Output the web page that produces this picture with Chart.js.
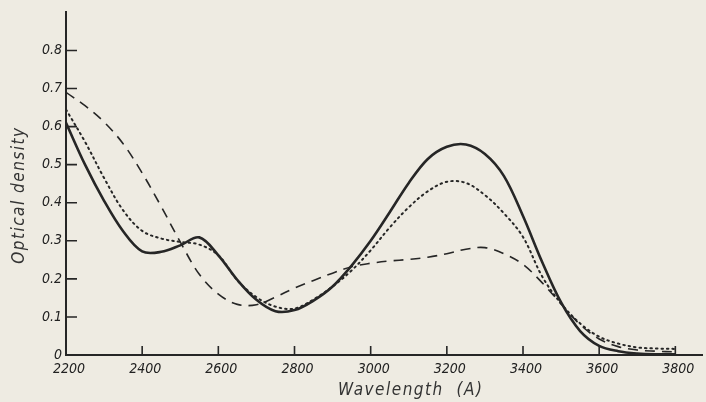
<!DOCTYPE html>
<html>
<head>
<meta charset="utf-8">
<script src="https://cdn.jsdelivr.net/npm/chart.js@4.4.1/dist/chart.umd.min.js"></script>
<style>
  html, body { margin: 0; padding: 0; background: #eeebe2; }
  #wrap { width: 706px; height: 402px; position: relative; }
</style>
</head>
<body>
<div id="wrap"><canvas id="spectrum"></canvas></div>
<script>
// Wavelength grid (Angstrom)
const wavelengths = [
    2200, 2250, 2300, 2350, 2400, 2450, 2500, 2550, 2600, 2650, 2700,
    2750, 2800, 2850, 2900, 2950, 3000, 3050, 3100, 3150, 3200, 3250,
    3300, 3350, 3400, 3450, 3500, 3550, 3600, 3650, 3700, 3750, 3800
];

// Optical density, solid curve
const solidDensity = [
    0.61, 0.50, 0.405, 0.325, 0.272, 0.271, 0.288, 0.309, 0.262, 0.197, 0.145,
    0.115, 0.118, 0.143, 0.18, 0.235, 0.30, 0.375, 0.452, 0.515, 0.547, 0.553,
    0.528, 0.47, 0.365, 0.245, 0.138, 0.063, 0.024, 0.01, 0.004, 0.002, 0.002
];

// Optical density, dotted curve
const dottedDensity = [
    0.645, 0.56, 0.465, 0.38, 0.326, 0.306, 0.297, 0.29, 0.262, 0.196, 0.152,
    0.127, 0.122, 0.146, 0.18, 0.222, 0.275, 0.335, 0.388, 0.43, 0.455, 0.452,
    0.42, 0.372, 0.31, 0.207, 0.135, 0.083, 0.048, 0.03, 0.02, 0.017, 0.016
];

// Optical density, dashed curve
const dashedDensity = [
    0.69, 0.655, 0.612, 0.555, 0.478, 0.39, 0.297, 0.212, 0.16, 0.133, 0.132,
    0.152, 0.176, 0.196, 0.215, 0.232, 0.241, 0.247, 0.251, 0.257, 0.266, 0.278,
    0.282, 0.266, 0.238, 0.19, 0.134, 0.08, 0.042, 0.022, 0.013, 0.01, 0.008
];

const yTickValues = [0, 0.1, 0.2, 0.3, 0.4, 0.5, 0.6, 0.7, 0.8];
const xTickValues = [2200, 2400, 2600, 2800, 3000, 3200, 3400, 3600, 3800];

const INK = '#262626';
const TICK_FONT = { family: "'DejaVu Sans Condensed', 'DejaVu Sans', sans-serif", size: 14, style: 'italic' };

function toPoints(values) {
    return wavelengths.map((w, i) => ({ x: w, y: values[i] }));
}

// Inward tick marks and italic axis titles
const axisDecor = {
    id: 'axisDecor',
    afterDraw(chart) {
        const ctx = chart.ctx;
        const xs = chart.scales.x;
        const ys = chart.scales.y;
        const area = chart.chartArea;
        ctx.save();
        ctx.strokeStyle = INK;
        ctx.lineWidth = 1.6;
        ctx.beginPath();
        xTickValues.forEach(v => {
            if (v === 2200) return;
            const px = xs.getPixelForValue(v);
            ctx.moveTo(px, area.bottom);
            ctx.lineTo(px, area.bottom - 9);
        });
        yTickValues.forEach(v => {
            if (v === 0) return;
            const py = ys.getPixelForValue(v);
            ctx.moveTo(area.left, py);
            ctx.lineTo(area.left + 11, py);
        });
        ctx.stroke();

        ctx.fillStyle = '#333';
        ctx.font = "italic 17px 'DejaVu Sans Condensed', 'DejaVu Sans', sans-serif";
        ctx.letterSpacing = '1.5px';
        ctx.textAlign = 'center';
        ctx.textBaseline = 'middle';
        ctx.fillText('Wavelength  (A)', xs.getPixelForValue(3105), 391);

        ctx.translate(20, ys.getPixelForValue(0.42));
        ctx.rotate(-Math.PI / 2);
        ctx.fillText('Optical density', 0, 0);
        ctx.restore();
    }
};

const spectrumChart = new Chart(document.getElementById('spectrum'), {
    type: 'line',
    data: {
        datasets: [
            {
                label: 'solid',
                data: toPoints(solidDensity),
                borderColor: INK,
                borderWidth: 2.6,
                pointRadius: 0,
                tension: 0.35
            },
            {
                label: 'dotted',
                data: toPoints(dottedDensity),
                borderColor: INK,
                borderWidth: 2,
                borderDash: [1.5, 4],
                borderCapStyle: 'round',
                pointRadius: 0,
                tension: 0.35
            },
            {
                label: 'dashed',
                data: toPoints(dashedDensity),
                borderColor: INK,
                borderWidth: 1.6,
                borderDash: [10, 7],
                pointRadius: 0,
                tension: 0.35
            }
        ]
    },
    options: {
        responsive: true,
        maintainAspectRatio: false,
        animation: false,
        layout: { padding: { top: 12, right: 4, left: 0, bottom: 0 } },
        plugins: {
            legend: { display: false },
            tooltip: { enabled: false }
        },
        scales: {
            x: {
                type: 'linear',
                min: 2200,
                max: 3870,
                afterFit: scale => { scale.height = 47; },
                grid: { display: false, drawTicks: false },
                border: { display: true, color: INK, width: 2 },
                ticks: {
                    stepSize: 200,
                    includeBounds: false,
                    padding: 6,
                    labelOffset: 3,
                    color: '#222',
                    font: TICK_FONT,
                    maxRotation: 0,
                    callback: v => (v <= 3800 ? String(v) : '')
                }
            },
            y: {
                min: 0,
                max: 0.9,
                afterFit: scale => { scale.width = 66; },
                grid: { display: false, drawTicks: false },
                border: { display: true, color: INK, width: 2 },
                ticks: {
                    stepSize: 0.1,
                    padding: 4,
                    color: '#222',
                    font: TICK_FONT,
                    callback: v => {
                        const r = Math.round(v * 10) / 10;
                        if (r > 0.8) return '';
                        return r === 0 ? '0' : r.toFixed(1);
                    }
                }
            }
        }
    },
    plugins: [axisDecor]
});
</script>
</body>
</html>
